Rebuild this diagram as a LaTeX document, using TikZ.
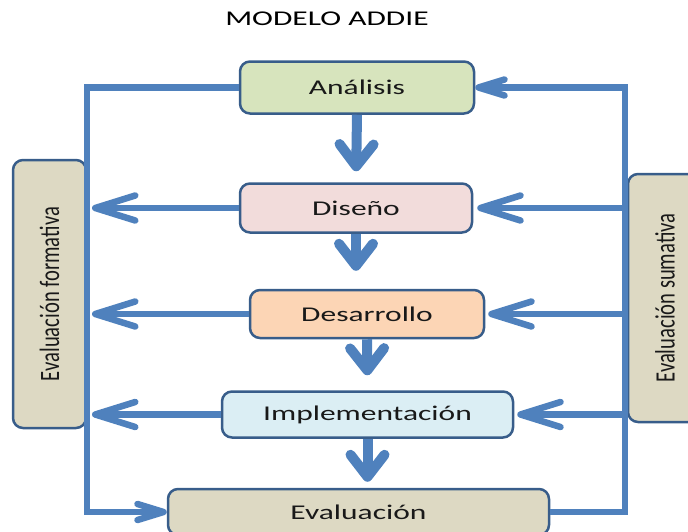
\documentclass[tikz,border=0pt]{standalone}
\usepackage{fontspec}
\setmainfont{Carlito}
\usepackage{graphicx}
\usetikzlibrary{arrows.meta}
\definecolor{azul}{HTML}{4F81BD}
\definecolor{bordeazul}{HTML}{385D8A}
\definecolor{verde}{HTML}{D7E4BD}
\definecolor{rosa}{HTML}{F2DCDB}
\definecolor{naranja}{HTML}{FCD5B5}
\definecolor{celeste}{HTML}{DBEEF4}
\definecolor{arena}{HTML}{DDD9C3}
\newcommand{\ancho}[1]{\scalebox{1.5}[1]{#1}}
\newcommand{\girado}[1]{\rotatebox{90}{\scalebox{1}[1.36]{#1}}}

\begin{document}
\begin{tikzpicture}[x=1pt,y=-1pt,
  caja/.style={draw=bordeazul, line width=2.5pt, rounded corners=10pt, inner sep=0pt, text=black!90, font=\fontsize{21}{25}\selectfont},
  lateral/.style={caja, fill=arena, font=\fontsize{20.6}{24}\selectfont},
  linea/.style={draw=azul, line width=6.5pt},
  flecha/.style={linea, -{Straight Barb[length=40pt,width=25pt,round]}},
  flechita/.style={linea, -{Straight Barb[length=26pt,width=16pt,round]}},
  bajada/.style={draw=azul, line width=10pt, -{Straight Barb[length=22pt,width=34pt,round]}}]
\useasboundingbox (0,0) rectangle (688,531);

\node[font=\fontsize{21}{25}\selectfont] (titulo) at (327,19) {\ancho{MODELO ADDIE}};

\node[caja, fill=verde, minimum width=234pt, minimum height=52pt] (analisis) at (357,87.5) {\ancho{Análisis}};
\node[caja, fill=rosa, minimum width=232pt, minimum height=49pt] (diseno) at (356,208) {\ancho{Diseño}};
\node[caja, fill=naranja, minimum width=234pt, minimum height=48pt] (desarrollo) at (367,314) {\ancho{Desarrollo}};
\node[caja, fill=celeste, minimum width=291pt, minimum height=46pt] (implementacion) at (367.5,414.5) {\ancho{Implementación}};
\node[caja, fill=arena, minimum width=381pt, minimum height=46pt] (evaluacion) at (358.5,512) {\ancho{Evaluación}};

\node[lateral, minimum width=73pt, minimum height=268pt] (formativa) at (49.5,294) {\girado{Evaluación formativa}};
\node[lateral, minimum width=74pt, minimum height=248pt] (sumativa) at (665,298) {\girado{Evaluación sumativa}};

\coordinate (izq) at (87,300);
\coordinate (der) at (625,300);

\draw[bajada, shorten >=11pt] (analisis.south) -- (diseno.north);
\draw[bajada, shorten >=18pt] (diseno.south) -- (diseno.south |- desarrollo.north);
\draw[bajada, shorten >=15pt] (desarrollo.south) -- (implementacion.north);
\draw[bajada, shorten >=6pt] (implementacion.south) -- (implementacion.south |- evaluacion.north);

\draw[flechita] (analisis.west) -| (izq) |- (evaluacion.west);
\draw[flechita] (evaluacion.east) -| (der) |- (analisis.east);

\draw[flecha, shorten >=5pt] (diseno.west) -- (diseno.west -| izq);
\draw[flecha, shorten >=5pt] (desarrollo.west) -- (desarrollo.west -| izq);
\draw[flecha, shorten >=5pt] (implementacion.west) -- (implementacion.west -| izq);

\draw[flecha, shorten >=4pt] (der |- diseno.east) -- (diseno.east);
\draw[flecha, shorten >=3pt] (der |- desarrollo.east) -- (desarrollo.east);
\draw[flecha, shorten >=3pt] (der |- implementacion.east) -- (implementacion.east);
\end{tikzpicture}
\end{document}
